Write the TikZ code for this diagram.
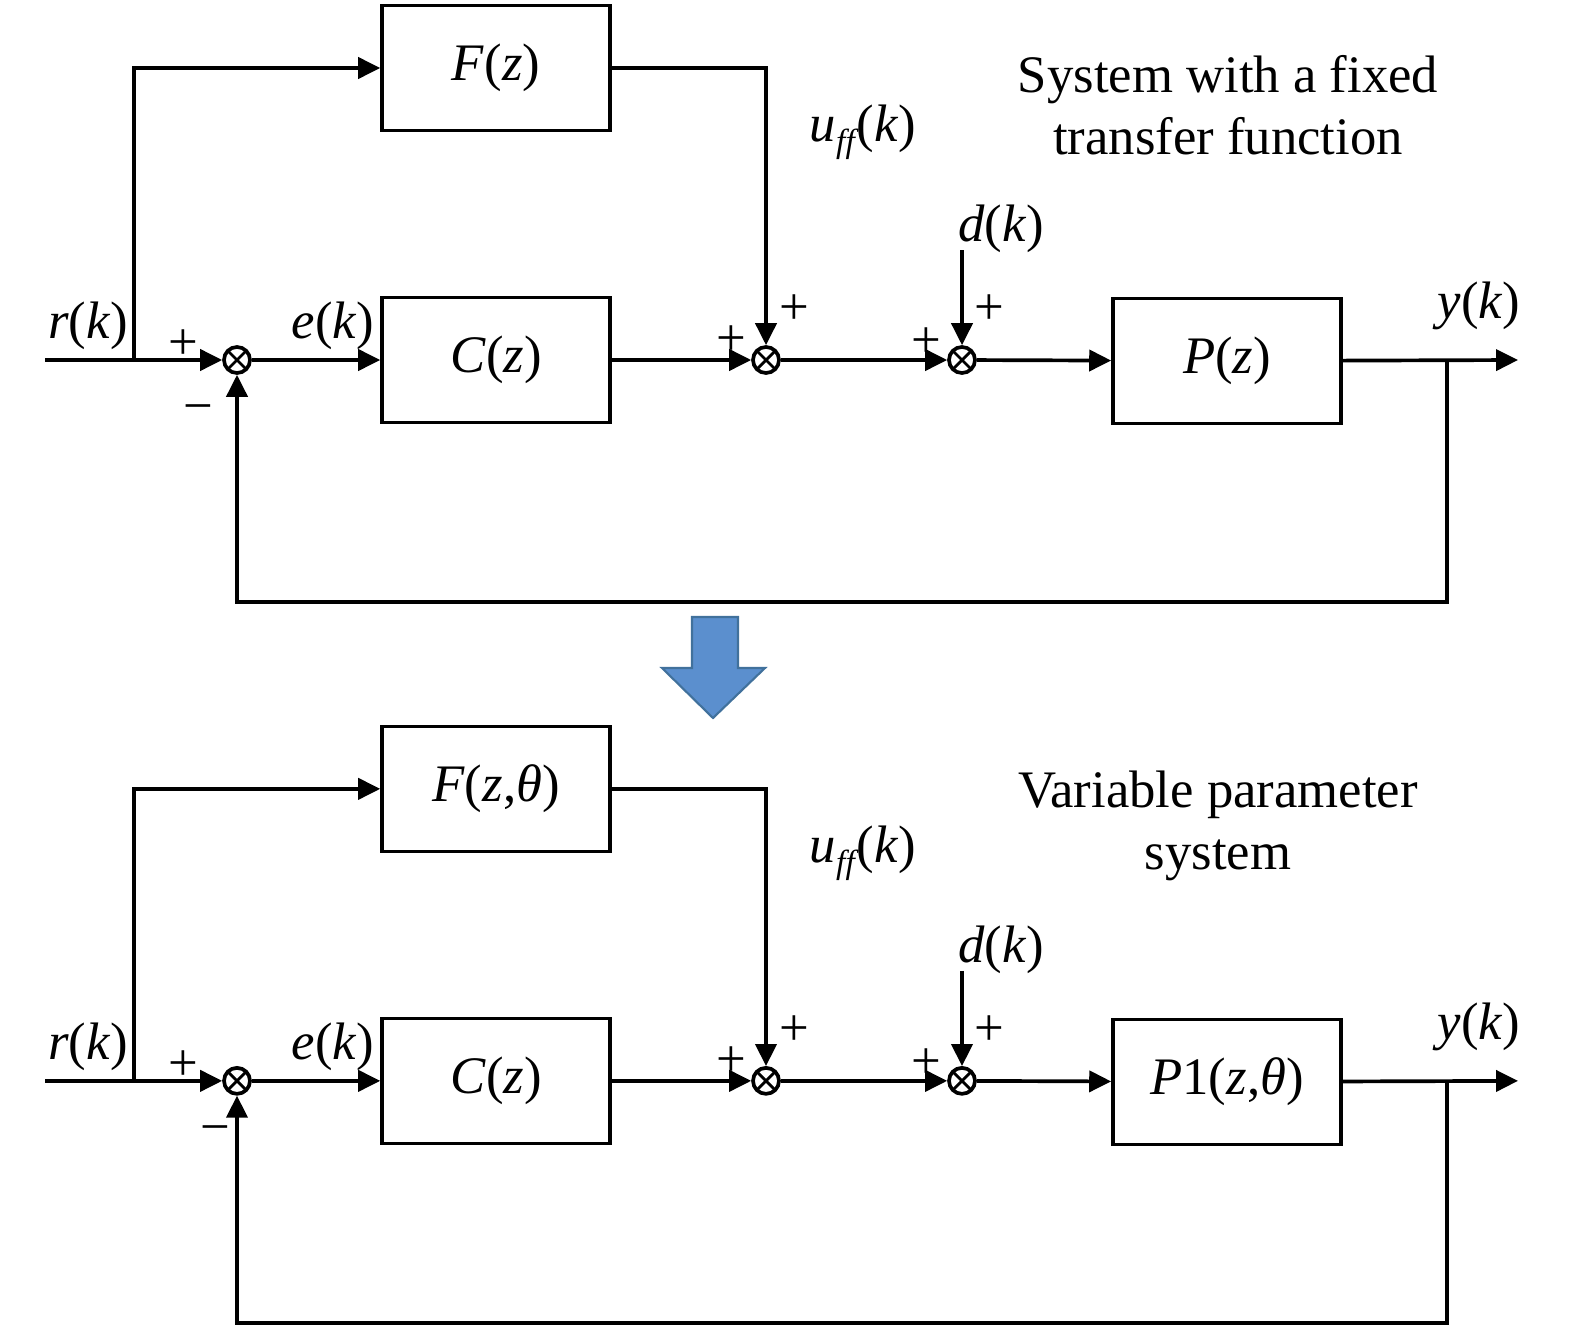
\documentclass[tikz,border=0pt]{standalone}
\usepackage{fontspec}
\setmainfont{Liberation Serif}
\usetikzlibrary{arrows.meta}
\definecolor{arrowblue}{RGB}{91,143,206}
\definecolor{arrowedge}{RGB}{65,113,156}
\newcommand\lk{\textit{k}}
\newcommand\sysdiag[5]{%
  \node[blk] (F#1) at (496,68) {#2};
  \node[blk] (C#1) at (496,360) {\textit{C}(\textit{z})};
  \node[blk] (P#1) at (1227,361) {#3};
  \node[sumj] (s1#1) at (237,360) {};
  \node[sumj] (s2#1) at (766,360) {};
  \node[sumj] (s3#1) at (962,360) {};
  \coordinate (rin#1) at (45,360);
  \coordinate (rb#1) at (134,360);
  \coordinate (dtop#1) at (962,250);
  \coordinate (yout#1) at (1518,360);
  \coordinate (yb#1) at (1447,360);
  \coordinate (fb#1) at (1447,602);
  \draw (rin#1) -- (rb#1);
  \draw[arr] (rb#1) -- (s1#1);
  \draw[arr] (rb#1) |- (F#1.west);
  \draw[arr] (s1#1) -- (C#1);
  \draw[arr] (C#1) -- (s2#1);
  \draw[arr] (F#1.east) -| (s2#1);
  \draw[arr] (s2#1) -- (s3#1);
  \draw[arr] (dtop#1) -- (s3#1);
  \draw[arr] (s3#1) -- (P#1);
  \draw[arr] (P#1) -- (yout#1);
  \draw[arr] (yb#1) -- (fb#1) -| (s1#1);
  \node[lbl] (lr#1) at (88,326) {\textit{r}(\lk)};
  \node[lbl] (le#1) at (333,326) {\textit{e}(\lk)};
  \node[lbl] (lu#1) at (863,132) {\textit{u}\raisebox{-0.45ex}{\fontsize{19}{20}\selectfont\textit{ff}}\kern-1pt(\lk)};
  \node[lbl] (ld#1) at (1001,229) {\textit{d}(\lk)};
  \node[lbl] (ly#1) at (1479,306) {\textit{y}(\lk)};
  \node[lbl] (p1#1) at (183,345) {+};
  \node[lbl] (m1#1) at (#4,414) {−};
  \node[lbl] (p2#1) at (731,341) {+};
  \node[lbl] (p3#1) at (794,310) {+};
  \node[lbl] (p4#1) at (926,343) {+};
  \node[lbl] (p5#1) at (989,310) {+};
  \node[lbl, align=center, font=\fontsize{30}{35.5}\selectfont] (t#1) at #5;
}
\begin{document}
\begin{tikzpicture}[x=0.02cm,y=-0.02cm, line width=2.1pt,
  blk/.style={draw, minimum width=4.56cm, minimum height=2.5cm, inner sep=0pt, font=\fontsize{30}{35}\selectfont},
  sumj/.style={circle, draw, fill=white, inner sep=0pt, minimum size=0.52cm,
    path picture={\draw[line width=1.6pt] (path picture bounding box.north west) -- (path picture bounding box.south east) (path picture bounding box.north east) -- (path picture bounding box.south west);}},
  arr/.style={-{Triangle[length=12.5pt,width=12pt]}},
  lbl/.style={font=\fontsize{30}{35}\selectfont, inner sep=0pt}]
\useasboundingbox (0,0) rectangle (1575,1335);
\sysdiag{a}{\textit{F}(\textit{z})}{\textit{P}(\textit{z})}{198}{(1228,105) {System with a fixed\\transfer function}}
\begin{scope}[yshift=-14.42cm]
\sysdiag{b}{\textit{F}(\textit{z},\textit{θ})}{\textit{P}1(\textit{z},\textit{θ})}{215}{(1218,105) {Variable parameter\\system}}
\end{scope}
\draw[fill=arrowblue, draw=arrowedge, line width=1.2pt] (692,617) -- (738,617) -- (738,668) -- (765,668) -- (713,718) -- (662,668) -- (692,668) -- cycle;
\end{tikzpicture}
\end{document}
